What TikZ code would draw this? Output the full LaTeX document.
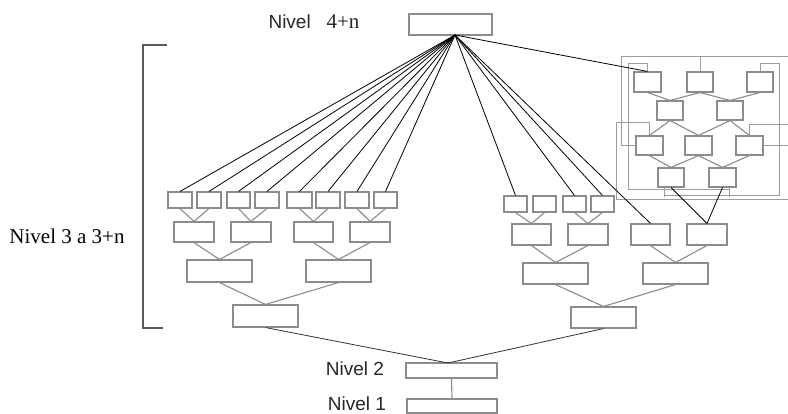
\documentclass[tikz,border=0pt]{standalone}
\usepackage{fontspec}
\setmainfont{Liberation Serif}
\setsansfont{Liberation Sans}
\usetikzlibrary{fit}
\definecolor{boxgray}{RGB}{140,140,140}
\definecolor{txtgray}{RGB}{40,40,40}
\tikzset{
  bx/.style={draw=boxgray, line width=1.1pt, inner sep=0pt, fill=white},
  gcon/.style={draw=boxgray, line width=1.1pt},
  bcon/.style={draw=black, line width=0.8pt},
  frm/.style={draw=boxgray!85, line width=1.0pt},
  lbl/.style={text=txtgray, font=\fontsize{19}{21}\selectfont, inner sep=0pt}
}
\newcommand\bx[5]{\node[bx, fit={(#2,#3)(#4,#5)}] (#1) {};}
\begin{document}
\begin{tikzpicture}[x=1pt,y=-1pt]
\useasboundingbox[fill=white] (0,0) rectangle (788,414);

% top and bottom levels
\bx{top}{409}{14}{492}{35}
\bx{N2}{406}{363}{497}{378}
\bx{N1}{407}{399}{497}{413}
\coordinate (apex) at (455,35);

% left tree
\bx{La}{168}{192}{192}{208}
\bx{Lb}{197}{192}{221}{208}
\bx{Lc}{227}{192}{250}{208}
\bx{Ld}{255}{192}{279}{208}
\bx{Le}{287}{192}{312}{208}
\bx{Lf}{316}{192}{340}{208}
\bx{Lg}{345}{192}{369}{208}
\bx{Lh}{374}{192}{397}{208}
\bx{LBa}{174}{222}{214}{242}
\bx{LBb}{231}{222}{271}{242}
\bx{LBc}{294}{222}{333}{242}
\bx{LBd}{350}{222}{390}{242}
\bx{LCa}{187}{260}{252}{282}
\bx{LCb}{306}{260}{371}{282}
\bx{LD}{233}{305}{298}{327}

% right tree
\bx{Ra}{504}{196}{527}{212}
\bx{Rb}{533}{196}{556}{212}
\bx{Rc}{563}{196}{586}{212}
\bx{Rd}{591}{196}{614}{212}
\bx{RBa}{512}{224}{551}{245}
\bx{RBb}{568}{224}{608}{245}
\bx{RBc}{631}{224}{670}{245}
\bx{RBd}{687}{224}{727}{245}
\bx{RCa}{523}{263}{588}{284}
\bx{RCb}{643}{263}{708}{284}
\bx{RD}{571}{307}{636}{328}

% inset frames
\draw[frm] (649.5,136) -- (649.5,123) -- (616,123) -- (616,200) -- (788,200);
\draw[frm] (749.5,136) -- (749.5,125) -- (788,125);
\draw[frm] (763,145.5) -- (788,145.5);
\draw[frm] (636,145.5) -- (621,145.5) -- (621,57) -- (788,57);
\draw[frm] (700,57) -- (700,72);
\draw[frm] (647.5,72) -- (647.5,64) -- (628,64) -- (628,190) -- (730,190);
\draw[frm] (760,72) -- (760,64) -- (779,64) -- (779,196) -- (664,196);
\draw[frm] (664,187) -- (664,197);
\draw[frm] (729,187) -- (729,197);

% inset boxes
\bx{Aa}{634}{72}{661}{92}
\bx{Ab}{687}{72}{713}{92}
\bx{Ac}{747}{72}{773}{92}
\bx{Ba}{657}{101}{683}{120}
\bx{Bb}{717}{101}{743}{120}
\bx{Ca}{636}{136}{663}{155}
\bx{Cb}{685}{136}{712}{155}
\bx{Cc}{736}{136}{763}{155}
\bx{Da}{658}{168}{684}{187}
\bx{Db}{709}{168}{736}{187}

% gray connectors
\foreach \a/\b in {La/LBa,Lb/LBa,Lc/LBb,Ld/LBb,Le/LBc,Lf/LBc,Lg/LBd,Lh/LBd,
  LBa/LCa,LBb/LCa,LBc/LCb,LBd/LCb,LCa/LD,LCb/LD,
  Ra/RBa,Rb/RBa,Rc/RBb,Rd/RBb,RBa/RCa,RBb/RCa,RBc/RCb,RBd/RCb,RCa/RD,RCb/RD,
  Aa/Ba,Ab/Ba,Ab/Bb,Ac/Bb,Ba/Ca,Ba/Cb,Bb/Cb,Bb/Cc,Ca/Da,Cb/Da,Cb/Db,Cc/Db,N2/N1}
  \draw[gcon] (\a.south) -- (\b.north);

% black connectors
\foreach \t in {La,Lb,Lc,Ld,Le,Lf,Lg,Lh,Ra,Rc,Rd,RBc,Aa}
  \draw[bcon] (apex) -- (\t.north);
\draw[bcon] (Da.south) -- (RBd.north);
\draw[bcon] (Db.south) -- (RBd.north);
\coordinate (meet) at (448,363);
\draw[bcon, draw=black!80] (LD.south) -- (meet) -- (RD.south);

% bracket
\draw[draw=black!65, line width=1.3pt] (167,45) -- (143,45) -- (143,328) -- (163,328);

% labels
\node[lbl] (t4) at (314,22) {\sffamily Nivel\ \ \ {\rmfamily\fontsize{21}{23}\selectfont 4+n}};
\node[lbl, font=\fontsize{21}{23}\selectfont, text=black] (t3) at (67,236) {Nivel 3 a 3+n};
\node[lbl] (t2) at (355,369) {\sffamily Nivel 2};
\node[lbl] (t1) at (357,404) {\sffamily Nivel 1};
\end{tikzpicture}
\end{document}
